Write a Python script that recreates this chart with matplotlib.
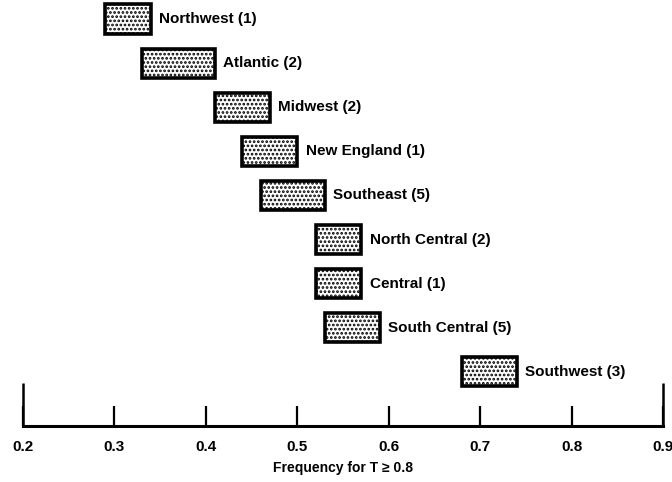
import numpy as np
import matplotlib.pyplot as plt

plt.rcParams['font.family'] = ['Liberation Sans', 'DejaVu Sans']
plt.rcParams['font.weight'] = 'bold'
plt.rcParams['hatch.linewidth'] = 1.3

# regional ranges of frequency for T >= 0.8 (number of stations in brackets)
regions = ['Northwest (1)', 'Atlantic (2)', 'Midwest (2)', 'New England (1)',
           'Southeast (5)', 'North Central (2)', 'Central (1)',
           'South Central (5)', 'Southwest (3)']
low = [0.29, 0.33, 0.41, 0.44, 0.46, 0.52, 0.52, 0.53, 0.68]
high = [0.34, 0.41, 0.47, 0.50, 0.53, 0.57, 0.57, 0.59, 0.74]
xticks = [0.2, 0.3, 0.4, 0.5, 0.6, 0.7, 0.8, 0.9]

fig = plt.figure(figsize=(6.72, 4.82), dpi=100)
ax = fig.add_axes([0.0342, 0.116, 0.9524, 0.884])

ypos = np.arange(len(regions))[::-1]
widths = np.array(high) - np.array(low)
ax.barh(ypos, widths, left=low, height=0.66, color='white',
        edgecolor='black', linewidth=2.6, hatch='....')

for y, x, name in zip(ypos, high, regions):
    ax.text(x + 0.009, y, name, va='center', ha='left', fontsize=11,
            fontweight='bold')

ax.set_xlim(0.2, 0.9)
ax.set_ylim(-1.23, 8.43)

for side in ['top', 'left', 'right']:
    ax.spines[side].set_visible(False)
ax.spines['bottom'].set_linewidth(2.2)
ax.set_yticks([])

ax.set_xticks(xticks)
ax.set_xticklabels([f'{t:.1f}' for t in xticks], fontsize=11, fontweight='bold')
ax.tick_params(axis='x', which='major', direction='in', length=14.5,
               width=1.6, pad=10)
# longer ticks at both ends of the scale
ax.xaxis.remove_overlapping_locs = False
ax.set_xticks([0.2, 0.9], minor=True)
ax.tick_params(axis='x', which='minor', direction='in', length=31, width=1.8)

ax.set_xlabel('Frequency for T \u2265 0.8', fontsize=10, fontweight='bold',
              labelpad=5)

fig.savefig('out.png', dpi=100)
